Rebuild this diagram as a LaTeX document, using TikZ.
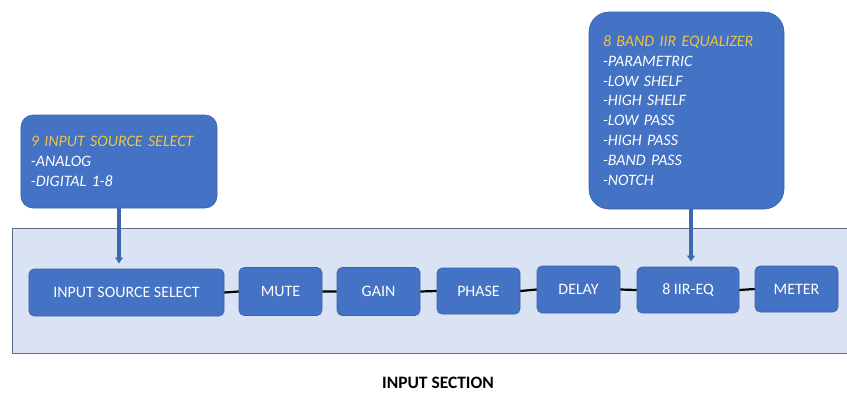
\documentclass[tikz,border=0pt]{standalone}
\usepackage{fontspec}
\setmainfont{Carlito}
\usepackage{xcolor}
\usetikzlibrary{arrows.meta}
\definecolor{boxblue}{RGB}{68,114,196}
\definecolor{panelblue}{RGB}{218,227,243}
\definecolor{panelline}{RGB}{96,110,135}
\definecolor{titlegold}{RGB}{236,196,72}

\begin{document}
\begin{tikzpicture}[x=1bp,y=-1bp,line join=round,
  block/.style={fill=boxblue,draw=boxblue!85!black,line width=.6bp,rounded corners=5bp,
    text=white,inner sep=0pt,font=\fontsize{16}{18}\selectfont},
  callout/.style={fill=boxblue,draw=boxblue!85!black,line width=.6bp,text=white,
    align=left,font=\fontsize{16}{20}\selectfont\itshape},
  feed/.style={draw=boxblue!90!black,line width=3.5bp,-{Latex[length=6bp,width=9bp]},shorten >=5bp},
  link/.style={draw=black,line width=2.2bp}]
\useasboundingbox (0,0) rectangle (847,392);
\filldraw[fill=panelblue,draw=panelline,line width=.8bp] (12,228) rectangle (860,353);
\node[block,minimum width=195bp,minimum height=47bp] (src) at (126.5,292.5) {INPUT SOURCE SELECT};
\node[block,minimum width=83bp,minimum height=48bp] (mute) at (280.5,291.5) {MUTE};
\node[block,minimum width=83bp,minimum height=48bp] (gain) at (378.5,291.5) {GAIN};
\node[block,minimum width=83bp,minimum height=46bp] (phase) at (478.5,291) {PHASE};
\node[block,minimum width=83bp,minimum height=47bp] (delay) at (578.5,289.5) {DELAY};
\node[block,minimum width=102bp,minimum height=46bp] (eq) at (688,290) {8 IIR-EQ};
\node[block,minimum width=83bp,minimum height=46bp] (meter) at (796.5,289) {METER};
\draw[link] (src.east) -- (mute.west) (mute.east) -- (gain.west) (gain.east) -- (phase.west)
  (phase.east) -- (delay.west) (delay.east) -- (eq.west) (eq.east) -- (meter.west);
\node[callout,rounded corners=12bp,minimum width=196bp,minimum height=93bp,
  text width=176bp,inner xsep=10bp] (srcnote) at (119,161.5)
  {\textcolor{titlegold}{9 INPUT SOURCE SELECT}\\-ANALOG\\-DIGITAL 1-8};
\node[callout,rounded corners=20bp,minimum width=195bp,minimum height=197bp,
  text width=167bp,inner xsep=14bp] (eqnote) at (686.5,110.5)
  {\textcolor{titlegold}{8 BAND IIR EQUALIZER}\\-PARAMETRIC\\-LOW SHELF\\-HIGH SHELF\\-LOW PASS\\-HIGH PASS\\-BAND PASS\\-NOTCH};
\draw[feed] (srcnote.south) -- (srcnote.south |- src.north);
\draw[feed] ([xshift=4.5bp]eqnote.south) -- ([xshift=4.5bp]eqnote.south |- eq.north);
\node[font=\bfseries\fontsize{17.5}{20}\selectfont] (section) at (438,383) {INPUT SECTION};
\end{tikzpicture}
\end{document}
